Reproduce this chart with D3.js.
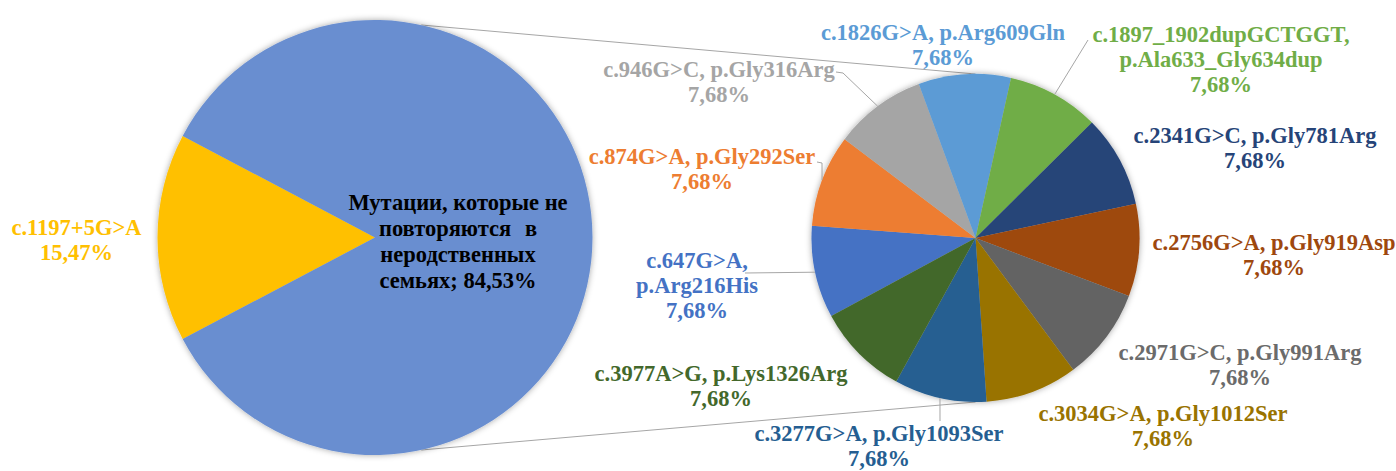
<!DOCTYPE html>
<html>
<head>
<meta charset="utf-8">
<script src="https://cdn.jsdelivr.net/npm/d3@7"></script>
<style>
  html, body { margin: 0; padding: 0; background: #fff; }
  svg { display: block; }
  text { font-family: "Liberation Serif", "DejaVu Serif", serif; font-weight: bold; font-size: 22.5px; }
</style>
</head>
<body>
<svg id="chart" width="1396" height="471"></svg>
<script>
// Main pie: recurring mutation vs. the group that is split out into the secondary pie
const mainCategories = ["c.1197+5G>A", "Мутации, которые не повторяются в неродственных семьях"];
const mainValues = [15.47, 84.53];
const mainColors = ["#FFC000", "#698ED0"];

// Secondary pie: mutations that do not recur in unrelated families
const subCategories = [
  "c.647G>A, p.Arg216His",
  "c.874G>A, p.Gly292Ser",
  "c.946G>C, p.Gly316Arg",
  "c.1826G>A, p.Arg609Gln",
  "c.1897_1902dupGCTGGT, p.Ala633_Gly634dup",
  "c.2341G>C, p.Gly781Arg",
  "c.2756G>A, p.Gly919Asp",
  "c.2971G>C, p.Gly991Arg",
  "c.3034G>A, p.Gly1012Ser",
  "c.3277G>A, p.Gly1093Ser",
  "c.3977A>G, p.Lys1326Arg"
];
const subValues = [7.68, 7.68, 7.68, 7.68, 7.68, 7.68, 7.68, 7.68, 7.68, 7.68, 7.68];
const subColors = ["#4472C4", "#ED7D31", "#A5A5A5", "#5B9BD5", "#70AD47", "#264478",
                   "#9E480E", "#636363", "#997300", "#255E91", "#43682B"];
const subLabelColors = ["#4472C4", "#ED7D31", "#A5A5A5", "#5B9BD5", "#70AD47", "#264478",
                        "#9E480E", "#6B6B6B", "#997300", "#255E91", "#43682B"];

// Label layout: line breaks, centre of first line, optional leader points
const subLabelLayout = [
  { lines: ["c.647G>A,", "p.Arg216His"], x: 697, y: 260, leader: [[745, 273]] },
  { lines: ["c.874G>A, p.Gly292Ser"], x: 702, y: 156, leader: [[817, 162], [822, 163]] },
  { lines: ["c.946G>C, p.Gly316Arg"], x: 719, y: 69, leader: [[836, 72], [843, 73]] },
  { lines: ["c.1826G>A, p.Arg609Gln"], x: 943, y: 32 },
  { lines: ["c.1897_1902dupGCTGGT,", "p.Ala633_Gly634dup"], x: 1221, y: 34, leader: [[1088, 40]] },
  { lines: ["c.2341G>C, p.Gly781Arg"], x: 1255, y: 135 },
  { lines: ["c.2756G>A, p.Gly919Asp"], x: 1274, y: 242 },
  { lines: ["c.2971G>C, p.Gly991Arg"], x: 1240, y: 352 },
  { lines: ["c.3034G>A, p.Gly1012Ser"], x: 1163, y: 413 },
  { lines: ["c.3277G>A, p.Gly1093Ser"], x: 879, y: 433, leader: [[940, 421]] },
  { lines: ["c.3977A>G, p.Lys1326Arg"], x: 721, y: 373 }
];

const fmt = v => d3.format(".2f")(v).replace(".", ",") + "%";
const deg = a => a * Math.PI / 180;

const svg = d3.select("#chart");
const lineGap = 25;
const baselineShift = 7.5;

// soft outer shadow around both pies
const defs = svg.append("defs");
const f = defs.append("filter").attr("id", "glow").attr("x", "-10%").attr("y", "-10%")
  .attr("width", "120%").attr("height", "120%");
f.append("feGaussianBlur").attr("in", "SourceAlpha").attr("stdDeviation", 3).attr("result", "b");
f.append("feFlood").attr("flood-color", "#000").attr("flood-opacity", 0.35).attr("result", "c");
f.append("feComposite").attr("in", "c").attr("in2", "b").attr("operator", "in").attr("result", "s");
const m = f.append("feMerge");
m.append("feMergeNode").attr("in", "s");
m.append("feMergeNode").attr("in", "SourceGraphic");

// ----- main pie -----
const main = { cx: 375, cy: 237.5, r: 217.5 };
const splitFrac = mainValues[0] / d3.sum(mainValues);
const mainStart = 1.5 * Math.PI - splitFrac * Math.PI;   // first slice centred on the left
const mainPie = d3.pie().sort(null).value(d => d)
  .startAngle(mainStart).endAngle(mainStart + 2 * Math.PI);
const mainArc = d3.arc().innerRadius(0).outerRadius(main.r);
const mainArcs = mainPie(mainValues);

// ----- secondary pie -----
const sub = { cx: 975.5, cy: 238, r: 164 };
const subStart = deg(241.6);
const subPie = d3.pie().sort(null).value(d => d)
  .startAngle(subStart).endAngle(subStart + 2 * Math.PI);
const subArc = d3.arc().innerRadius(0).outerRadius(sub.r);
const subArcs = subPie(subValues);

// connector lines between the pies
const pt = (c, a, r) => [c.cx + r * Math.sin(a), c.cy - r * Math.cos(a)];
const connA = deg(12.3);
const connectors = [
  [pt(main, connA, main.r), pt(sub, 0, sub.r)],
  [pt(main, Math.PI - connA, main.r), pt(sub, Math.PI, sub.r)]
];
svg.append("g").selectAll("line").data(connectors).join("line")
  .attr("x1", d => d[0][0]).attr("y1", d => d[0][1])
  .attr("x2", d => d[1][0]).attr("y2", d => d[1][1])
  .attr("stroke", "#A6A6A6").attr("stroke-width", 1);

const gMain = svg.append("g").attr("transform", `translate(${main.cx},${main.cy})`)
  .attr("filter", "url(#glow)");
gMain.selectAll("path").data(mainArcs).join("path")
  .attr("d", mainArc).attr("fill", (d, i) => mainColors[i]);

const gSub = svg.append("g").attr("transform", `translate(${sub.cx},${sub.cy})`)
  .attr("filter", "url(#glow)");
gSub.selectAll("path").data(subArcs).join("path")
  .attr("d", subArc).attr("fill", (d, i) => subColors[i]);

// leader lines: from label to the middle of the slice's outer edge
const leaderG = svg.append("g");
subArcs.forEach((a, i) => {
  const L = subLabelLayout[i];
  if (!L.leader) return;
  const mid = (a.startAngle + a.endAngle) / 2;
  const pts = L.leader.concat([pt(sub, mid, sub.r)]);
  leaderG.append("path")
    .attr("d", d3.line()(pts))
    .attr("fill", "none").attr("stroke", "#A6A6A6").attr("stroke-width", 1);
});

// helper to write multi-line centred text
function block(x, y, lines, color, gap) {
  const t = svg.append("text").attr("text-anchor", "middle").attr("fill", color);
  lines.forEach((s, k) => {
    t.append("tspan").attr("x", x).attr("y", y + k * gap + baselineShift).text(s);
  });
  return t;
}

// main pie labels
block(76.5, 227, [mainCategories[0], fmt(mainValues[0])], mainColors[0], lineGap);
const bigLines = ["Мутации, которые не", "повторяются в", "неродственных", "семьях; " + fmt(mainValues[1])];
const bigText = block(458, 202, bigLines, "#000", 26);
bigText.selectAll("tspan").filter((d, k) => k === 1).attr("word-spacing", "8px");

// secondary pie labels
subArcs.forEach((a, i) => {
  const L = subLabelLayout[i];
  block(L.x, L.y, L.lines.concat([fmt(subValues[i])]), subLabelColors[i], lineGap);
});
</script>
</body>
</html>
